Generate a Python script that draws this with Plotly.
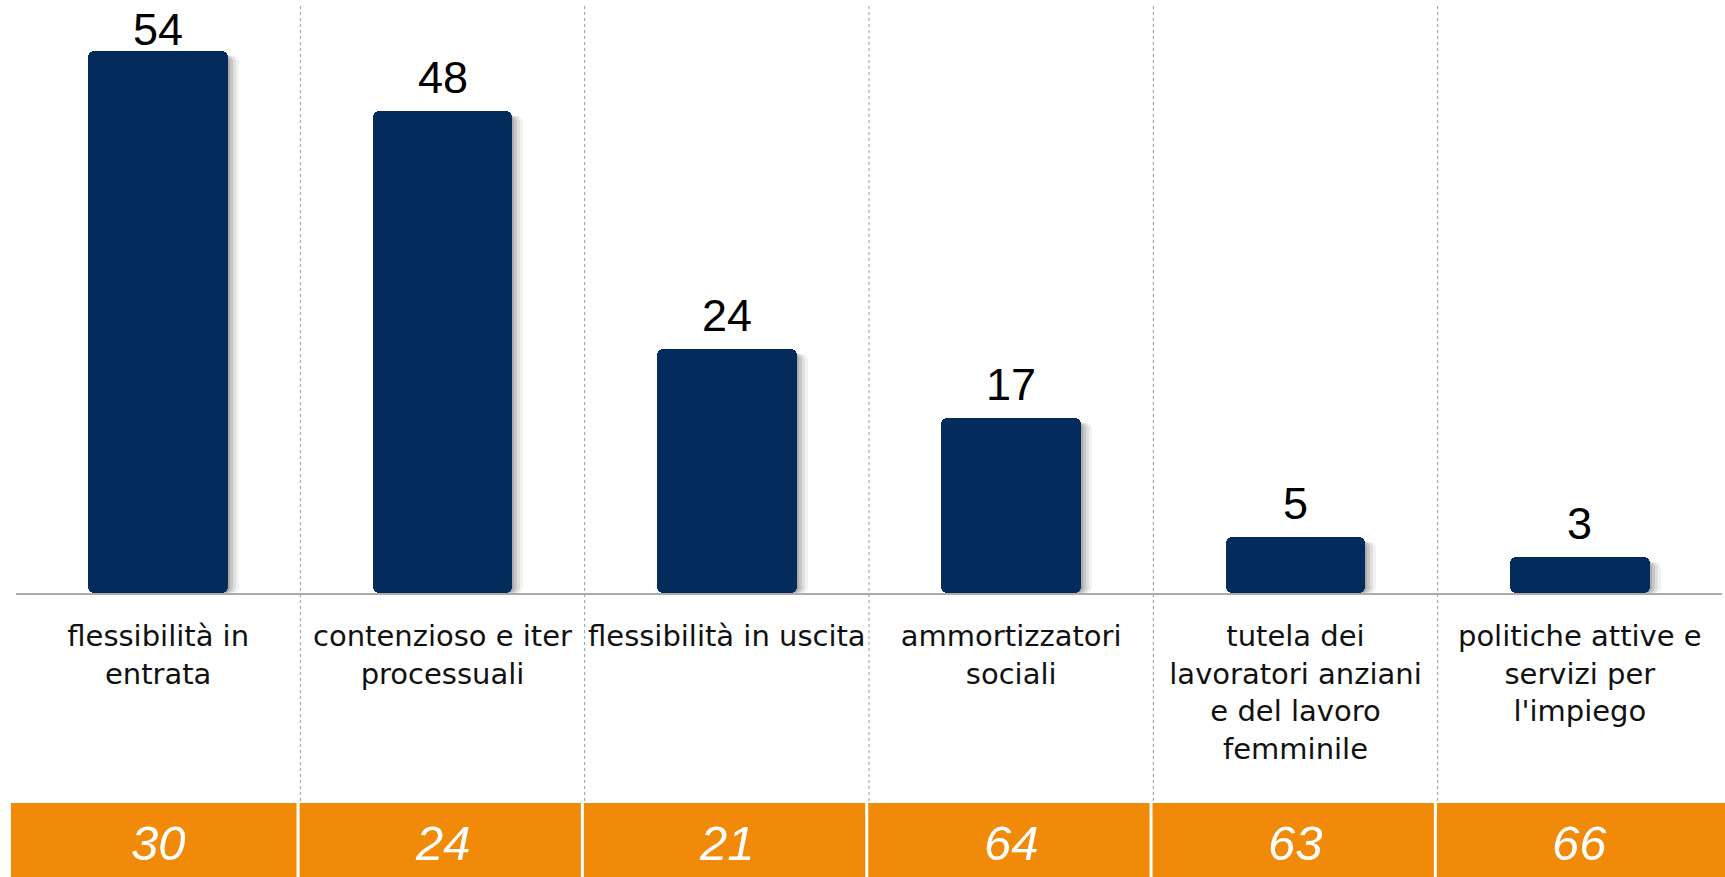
import plotly.graph_objects as go

categories = [
    "flessibilità in<br>entrata",
    "contenzioso e iter<br>processuali",
    "flessibilità in uscita",
    "ammortizzatori<br>sociali",
    "tutela dei<br>lavoratori anziani<br>e del lavoro<br>femminile",
    "politiche attive e<br>servizi per<br>l'impiego",
]
values = [54, 48, 24, 17, 5, 3]
row_values = [30, 24, 21, 64, 63, 66]

NAVY = "#032C5C"
ORANGE = "#F18A09"
Y_MIN, Y_MAX = -0.635, 58.54
BAR_W = 0.492
LABEL_PAD = 0.6      # data units between bar top and label box
LABEL_CEIL = 53.4    # highest label box bottom that keeps the label on the page

W, H = 1725, 877
ML, MR, MT, MB = 16, 3, 6, 284
PH = H - MT - MB
PW = W - ML - MR


def py(pix):
    return (H - MB - pix) / PH


def px(pix):
    return (pix - ML) / PW


idx = list(range(len(categories)))
fig = go.Figure()

# soft shadow layers
for dx, op in [(11, 0.05), (8, 0.08), (5, 0.11), (2, 0.14)]:
    fig.add_trace(go.Bar(
        x=idx, y=[v - Y_MIN - 0.5 for v in values], base=Y_MIN,
        width=BAR_W, offset=-BAR_W / 2 + dx / 284.4,
        marker=dict(color=f"rgba(0,0,0,{op})", line=dict(width=0), cornerradius=6),
        hoverinfo="skip", showlegend=False,
    ))

fig.add_trace(go.Bar(
    x=idx, y=[v - Y_MIN for v in values], base=Y_MIN,
    width=BAR_W, offset=-BAR_W / 2,
    marker=dict(color=NAVY, line=dict(width=0), cornerradius=6),
    hoverinfo="skip", showlegend=False,
))

shapes = []
# orange band
shapes.append(dict(type="rect", xref="paper", yref="paper",
                   x0=px(11), x1=px(1726), y0=py(803), y1=py(878),
                   fillcolor=ORANGE, line=dict(width=0), layer="above"))
for i in range(len(categories) - 1):
    xb = i + 0.5
    shapes.append(dict(type="line", xref="x", yref="paper",
                       x0=xb, x1=xb, y0=1.0, y1=py(803),
                       line=dict(color="#8A9CB6", width=1, dash="dot")))
    shapes.append(dict(type="line", xref="x", yref="paper",
                       x0=xb - 0.008, x1=xb - 0.008, y0=py(803), y1=py(878),
                       line=dict(color="white", width=3)))

annotations = []
for i, v in enumerate(values):
    annotations.append(dict(x=i, y=min(v + LABEL_PAD, LABEL_CEIL), xref="x", yref="y",
                            text=str(v), showarrow=False, yanchor="bottom",
                            font=dict(family="Liberation Sans", size=45, color="#000000")))
for i, rv in enumerate(row_values):
    annotations.append(dict(x=i, y=py(843), xref="x", yref="paper",
                            text=str(rv), showarrow=False, yanchor="middle",
                            font=dict(family="Liberation Sans", size=49,
                                      color="white", style="italic")))

fig.update_layout(
    width=W, height=H,
    margin=dict(l=ML, r=MR, t=MT, b=MB),
    paper_bgcolor="white", plot_bgcolor="white",
    barmode="overlay", bargap=0,
    shapes=shapes, annotations=annotations,
    xaxis=dict(
        tickmode="array", tickvals=idx, ticktext=categories,
        range=[-0.5, len(categories) - 0.5],
        showline=True, linecolor="#ABABAB", linewidth=2,
        showgrid=False, zeroline=False, ticks="",
        tickfont=dict(family="DejaVu Sans", size=29, color="#111111"),
        ticklabelstandoff=16,
    ),
    yaxis=dict(range=[Y_MIN, Y_MAX], visible=False, showgrid=False, zeroline=False),
)

fig.write_html("out.html", config={"displayModeBar": False},
               post_script="document.body.style.margin='0';")
